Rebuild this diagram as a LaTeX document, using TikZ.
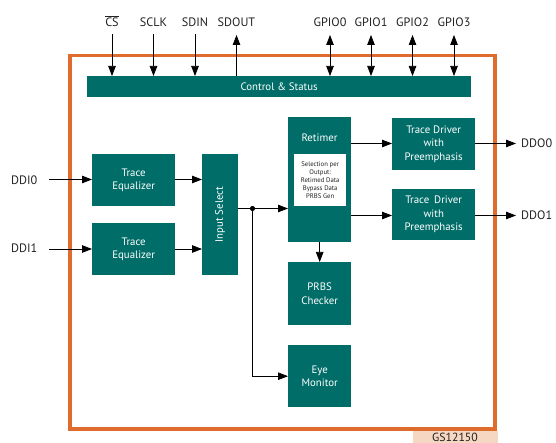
\documentclass[tikz,border=0pt]{standalone}
\usepackage{fontspec}
\setmainfont{PT Sans}
\usetikzlibrary{arrows.meta}
\definecolor{teal1}{HTML}{016D68}
\definecolor{frameor}{HTML}{DF6B2D}
\definecolor{peach}{HTML}{F6D7C2}
\definecolor{inktxt}{HTML}{222222}
\tikzset{
  block/.style={fill=teal1,draw=none,inner sep=0pt,anchor=north west,text=white,align=center,font=\fontsize{10.8}{13.5}\selectfont},
  pin/.style={text=inktxt,font=\fontsize{12.2}{14}\selectfont,inner sep=0pt},
  conn/.style={line width=0.75pt,draw=black,-{Triangle[length=10pt,width=7.5pt]}},
  biconn/.style={line width=0.75pt,draw=black,{Triangle[length=10pt,width=7.5pt]}-{Triangle[length=10pt,width=7.5pt]}},
}
\begin{document}
\begin{tikzpicture}[x=1pt,y=-1pt]
\useasboundingbox (0,0) rectangle (556,443);
% chip label and frame
\node[fill=peach,inner sep=0pt,minimum width=85pt,minimum height=13pt,anchor=north west] (chip) at (413,430.5) {};
\node[pin,font=\fontsize{11.8}{13}\selectfont] (chiplabel) at (455,437) {GS12150};
\node[draw=frameor,line width=3.8pt,outer sep=0pt,minimum width=425pt,minimum height=373.5pt,inner sep=0pt,anchor=north west] (frame) at (70.3,55.5) {};
% blocks
\node[block,minimum width=384pt,minimum height=21pt] (ctrl) at (87,76) {\raisebox{-1pt}{Control \& Status}};
\node[block,minimum width=83pt,minimum height=52pt] (eq0) at (92,154) {Trace\\Equalizer};
\node[block,minimum width=83pt,minimum height=52pt] (eq1) at (92,223) {Trace\\Equalizer};
\node[block,minimum width=36pt,minimum height=121pt] (sel) at (202,154) {};
\node[text=white,rotate=90,inner sep=0pt,font=\fontsize{10.8}{13}\selectfont] (sellabel) at (sel.center) {Input Select};
\node[block,minimum width=63pt,minimum height=125pt] (ret) at (288,117) {};
\node[text=white,inner sep=0pt,font=\fontsize{10.8}{13}\selectfont] (retlabel) at (319.5,138) {Retimer};
\node[fill=white,minimum width=52pt,minimum height=52pt,inner sep=0pt,anchor=north west,align=center,text=inktxt,font=\fontsize{6.7}{8.1}\selectfont] (selbox) at (294,154) {Selection per\\Output:\\Retimed Data\\Bypass Data\\PRBS Gen};
\node[block,minimum width=63pt,minimum height=63pt] (prbs) at (288,262) {PRBS\\Checker};
\node[block,minimum width=63pt,minimum height=62pt] (eye) at (288,345) {Eye\\Monitor};
\node[block,minimum width=83pt,minimum height=52pt] (drv0) at (392,118) {Trace Driver\\with\\Preemphasis};
\node[block,minimum width=83pt,minimum height=51pt] (drv1) at (392,189) {Trace\hspace{2pt} Driver\\with\\Preemphasis};
% top pins
\node[pin] (cs) at (112,21.5) {$\overline{\hbox{\fontsize{12.2}{14}\selectfont CS}}$};
\node[pin] (sclk) at (153.5,22.5) {SCLK};
\node[pin] (sdin) at (195,22.5) {SDIN};
\node[pin] (sdout) at (236.5,22.5) {SDOUT};
\node[pin] (g0) at (330,22.5) {GPIO0};
\node[pin] (g1) at (371,22.5) {GPIO1};
\node[pin] (g2) at (412.5,22.5) {GPIO2};
\node[pin] (g3) at (454,22.5) {GPIO3};
\draw[conn] (cs.south |- 0,34) -- (cs.south |- ctrl.north);
\draw[conn] (sclk.south |- 0,34) -- (sclk.south |- ctrl.north);
\draw[conn] (sdin.south |- 0,34) -- (sdin.south |- ctrl.north);
\draw[conn] (sdout.south |- ctrl.north) -- (sdout.south |- 0,35);
\draw[biconn] (g0.south |- 0,35) -- (g0.south |- ctrl.north);
\draw[biconn] (g1.south |- 0,35) -- (g1.south |- ctrl.north);
\draw[biconn] (g2.south |- 0,35) -- (g2.south |- ctrl.north);
\draw[biconn] (g3.south |- 0,35) -- (g3.south |- ctrl.north);
% left pins
\node[pin,anchor=west] (ddi0) at (11,180) {DDI0};
\node[pin,anchor=west] (ddi1) at (11,248.5) {DDI1};
\coordinate (in0) at (49,179.5);
\coordinate (in1) at (49,249);
\draw[conn] (in0) -- (eq0.west |- in0);
\draw[conn] (in1) -- (eq1.west |- in1);
\draw[conn] (eq0.east |- in0) -- (sel.west |- in0);
\draw[conn] (eq1.east |- in1) -- (sel.west |- in1);
% junction
\coordinate (jn) at (252.5,208.5);
\draw[conn] (sel.east |- jn) -- (ret.west |- jn);
\fill[black] (jn) circle (2.6pt);
\draw[conn] (jn) |- (eye.west);
% right side
\coordinate (out0) at (516,143.5);
\coordinate (out1) at (516,215.5);
\draw[conn] (ret.east |- out0) -- (drv0.west |- out0);
\draw[conn] (ret.east |- out1) -- (drv1.west |- out1);
\draw[conn] (ret.south) -- (prbs.north);
\node[pin,anchor=west] (ddo0) at (521,143.5) {DDO0};
\node[pin,anchor=west] (ddo1) at (521,215.5) {DDO1};
\draw[conn] (drv0.east |- out0) -- (out0);
\draw[conn] (drv1.east |- out1) -- (out1);
\end{tikzpicture}
\end{document}
